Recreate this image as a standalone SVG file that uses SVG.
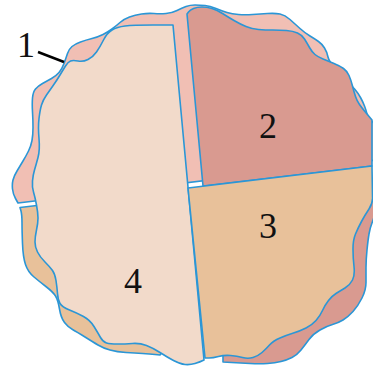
<svg xmlns="http://www.w3.org/2000/svg" width="373" height="366" viewBox="0 0 373 366">
<style>
.o{stroke:#2B96D6;stroke-width:1.6;stroke-linejoin:round}
.lp{fill:#F1BFB4}
.dp{fill:#D99A90}
.tan{fill:#E8C19A}
.bg{fill:#F2DACA}
.lbl{font-family:"Liberation Serif",serif;font-size:36px;fill:#111;text-anchor:middle}
</style>
<g id="back-top">
<path class="o lp" d="M18,203 L15.5,198.5 Q13,194 12.5,189 Q12,184 13,180 Q14,176 17,171 Q20,166 23,161 Q26,156 28.5,151 Q31,146 32,140.5 Q33,135 33,127.5 Q33,120 32.5,112 Q32,104 32.5,98 Q33,92 35.5,89 Q38,86 42.5,83.5 Q47,81 51.5,78.5 Q56,76 59,72.5 Q62,69 64,63.5 Q66,58 67.5,53.5 Q69,49 72,46.5 Q75,44 80.5,42 Q86,40 92,38.5 Q98,37 103,34.5 Q108,32 112,29 Q116,26 120,22.5 Q124,19 129.5,17 Q135,15 141.5,14 Q148,13 154,13.5 Q160,14 166,13.5 Q172,13 177,10.5 Q182,8 186,6.5 Q190,5 195,5 Q200,5 205,5.5 Q210,6 216,8.5 Q222,11 227,12.5 Q232,14 238.5,14.5 Q245,15 252.5,14.5 Q260,14 267.5,13.5 Q275,13 280,14 Q285,15 290,19.5 Q295,24 300,28.5 Q305,33 310,36 Q315,39 318.5,41.5 Q322,44 324.5,48 Q327,52 328,57 Q329,62 337,71 Q345,80 348.5,83 Q352,86 355,89.5 Q358,93 360.5,97.5 Q363,102 364.5,106 Q366,110 367,114 Q368,118 372,121.5 L376,125 L376,160 Z"/>
</g>
<g id="back-bottom-left">
<path class="o tan" d="M20,207.5 L21,211 Q22,215 22,222.5 Q22,230 22.5,243.5 Q23,257 25.5,264.5 Q28,272 34,277 Q40,282 46.5,287 Q53,292 55.5,296 Q58,300 59.5,309 Q61,318 64.5,322.5 Q68,327 72.5,329.5 Q77,332 85,337 Q93,342 98,345 Q103,348 110,350 Q117,352 126,352.5 Q135,353 142.5,353.5 Q150,354 155,354.5 L160,355 L180,330 L120,250 L60,202.7 Z"/>
</g>
<g id="back-bottom-right">
<path class="o dp" d="M223,300 L223,362 L231.5,362.5 Q240,363 250,363.5 Q260,364 267.5,363.5 Q275,363 281,361.5 Q287,360 292,357.5 Q297,355 301,350 Q305,345 309,339.5 Q313,334 320,330 Q327,326 332.5,324.5 Q338,323 343,320 Q348,317 353,311.5 Q358,306 362,298 Q366,290 366,282.5 Q366,275 366,267.5 Q366,260 367,250 Q368,240 369,234 Q370,228 372,223 Q374,218 375.5,211.5 L377,205 L377,180 L330,190 Z"/>
</g>
<g id="node-4">
<path class="o bg" d="M173,25 L153,25 Q133,25 125,26 Q117,27 112,30 Q107,33 103.5,40 Q100,47 96.5,52 Q93,57 88,59.5 Q83,62 78,61 Q73,60 70.5,61 Q68,62 65.5,66 Q63,70 60,75 Q57,80 53.5,85 Q50,90 46.5,95 Q43,100 41.5,105 Q40,110 39,118.5 Q38,127 39,138.5 Q40,150 38,157.5 Q36,165 34.5,170 Q33,175 32.5,181 Q32,187 33.5,192 Q35,197 36.5,205 Q38,213 38,218 Q38,223 36.5,230 Q35,237 35,242 Q35,247 37.5,252 Q40,257 45,262 Q50,267 52.5,270.5 Q55,274 56,280.5 Q57,287 57.5,293.5 Q58,300 60,303.5 Q62,307 69.5,310 Q77,313 83.5,316.5 Q90,320 94,326.5 Q98,333 100.5,337.5 Q103,342 106.5,343 Q110,344 117.5,344 Q125,344 132.5,343.5 Q140,343 146.5,345.5 Q153,348 160,352.5 Q167,357 173.5,360.5 Q180,364 185,364.5 Q190,365 195,363.5 Q200,362 204,360 Z"/>
<text class="lbl" x="133" y="293">4</text>
</g>
<g id="node-2">
<path class="o dp" d="M187,14 L188.5,12 Q190,10 193.5,8.5 Q197,7 202,7 Q207,7 212,8.5 Q217,10 222.5,13.5 Q228,17 234,20.5 Q240,24 246,26.5 Q252,29 258.5,29.5 Q265,30 272.5,30 Q280,30 286.5,30.5 Q293,31 297.5,33 Q302,35 304.5,39 Q307,43 309.5,47.5 Q312,52 315,54.5 Q318,57 323,59 Q328,61 334,63.5 Q340,66 343.5,68.5 Q347,71 349,75.5 Q351,80 352.5,86 Q354,92 355.5,96.5 Q357,101 359.5,104.5 Q362,108 364.5,111 Q367,114 369.5,117 L372,120 L372,166 L203,186 Z"/>
<text class="lbl" x="268" y="138">2</text>
</g>
<g id="node-3">
<path class="o tan" d="M188,188 L372,166 L372.5,197 Q373,203 369,209 Q365,215 361.5,221.5 Q358,228 355.5,234 Q353,240 353,249 Q353,258 354,266.5 Q355,275 352.5,280 Q350,285 345,288 Q340,291 336,293.5 Q332,296 328.5,300.5 Q325,305 322.5,310.5 Q320,316 316,320.5 Q312,325 306,328 Q300,331 293.5,333 Q287,335 280,338 Q273,341 269.5,345 Q266,349 262,352.5 Q258,356 253,357.5 Q248,359 242.5,357.5 Q237,356 230.5,355.5 Q224,355 218.5,356.5 Q213,358 209,358 L205,358 Z"/>
<text class="lbl" x="268" y="238">3</text>
</g>
<g id="label-1">
<text class="lbl" x="26" y="57">1</text>
</g>
<g id="connectors">
<line x1="38" y1="52" x2="64" y2="62" stroke="#000" stroke-width="2.5"/>
</g>
</svg>
